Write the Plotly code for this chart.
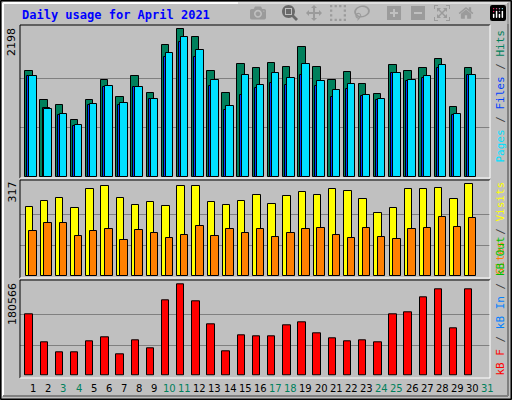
import plotly.graph_objects as go

days = list(range(1, 32))
weekend = [3, 4, 10, 11, 17, 18, 24, 25, 31]

# values for days 1..30 (no data for 31)
hits = [1580, 1146, 1067, 842, 1146, 1445, 1186, 1500, 1246, 1964, 2198, 2083, 1580, 1246, 1680,
        1620, 1700, 1640, 1934, 1640, 1445, 1565, 1381, 1231, 1665, 1580, 1620, 1754, 1037, 1620]
files = [1500, 1022, 917, 753, 1067, 1336, 1067, 1336, 1156, 1784, 2009, 1784, 1351, 992, 1216,
         1321, 1395, 1366, 1515, 1351, 1186, 1306, 1201, 1141, 1545, 1425, 1470, 1620, 917, 1515]
pages = [1500, 1007, 932, 768, 1082, 1351, 1096, 1336, 1156, 1844, 2083, 1889, 1440, 1052, 1515,
         1366, 1545, 1470, 1680, 1425, 1291, 1381, 1216, 1156, 1545, 1440, 1500, 1665, 932, 1515]
visits = [237, 258, 269, 234, 300, 310, 269, 244, 255, 241, 310, 310, 255, 244, 258,
          279, 248, 276, 289, 279, 300, 293, 265, 217, 234, 300, 300, 303, 265, 317]
sites = [154, 182, 182, 137, 154, 161, 123, 158, 148, 130, 141, 172, 137, 161, 148,
         161, 134, 148, 161, 165, 141, 130, 165, 134, 127, 161, 165, 203, 168, 199]
kbytes = [121256, 65900, 46130, 46130, 67877, 75785, 42176, 69854, 54038, 148934, 180566, 146957,
          101486, 48107, 79739, 77762, 77762, 99509, 105440, 83693, 73808, 67877, 69854, 65900,
          121256, 125210, 154865, 170681, 93578, 170681]

max_hits, max_visits, max_kb = 2198, 317, 180566
BG = '#c0c0c0'
W = 0.49
x = days[:30]

fig = go.Figure()

def bars(vals, off, color, xa, ya):
    fig.add_trace(go.Bar(x=[d + off for d in x], y=vals, width=W, marker=dict(color=color, line=dict(color='black', width=1)),
                         xaxis=xa, yaxis=ya, showlegend=False, hoverinfo='y'))

bars(hits, -0.27, '#00805c', 'x', 'y')
bars(files, -0.13, '#0040ff', 'x', 'y')
bars(pages, 0.0, '#00e0ff', 'x', 'y')
bars(visits, -0.24, '#ffff00', 'x2', 'y2')
bars(sites, 0.0, '#ff8000', 'x2', 'y2')
bars(kbytes, -0.26, '#ff0000', 'x3', 'y3')

xcommon = dict(range=[0.14, 31.14], showgrid=False, zeroline=False, showticklabels=False, fixedrange=True)
def ycommon(m, top):
    return dict(range=[0, top], tickvals=[m / 3, 2 * m / 3], showticklabels=False, showgrid=True,
                gridcolor='#808080', gridwidth=1, zeroline=False)

fig.update_layout(
    width=512, height=400, margin=dict(l=0, r=0, t=0, b=0),
    paper_bgcolor=BG, plot_bgcolor=BG, barmode='overlay', bargap=0,
    font=dict(family='DejaVu Sans', size=11, color='black'),
    xaxis=dict(domain=[20 / 512, 490 / 512], anchor='y', **xcommon),
    xaxis2=dict(domain=[20 / 512, 490 / 512], anchor='y2', **xcommon),
    xaxis3=dict(domain=[20 / 512, 490 / 512], anchor='y3', **xcommon),
    yaxis=dict(domain=[1 - 177 / 400, 1 - 26 / 400], anchor='x', **ycommon(max_hits, 2247)),
    yaxis2=dict(domain=[1 - 276 / 400, 1 - 180 / 400], anchor='x2', **ycommon(max_visits, 332)),
    yaxis3=dict(domain=[1 - 375.7 / 400, 1 - 280.3 / 400], anchor='x3', **ycommon(max_kb, 188470)),
)

ann = []
ann.append(dict(text='<b>Daily usage for April 2021</b>', x=20 / 512, y=1 - 15 / 400, xref='paper', yref='paper',
                xanchor='left', yanchor='middle', showarrow=False,
                font=dict(family='DejaVu Sans Mono', size=12, color='#0000ff')))
for d in days:
    ann.append(dict(text=str(d), x=d, y=1 - 388 / 400, xref='x3', yref='paper', showarrow=False,
                    xanchor='center', yanchor='middle',
                    font=dict(size=10, color='#00805c' if d in weekend else 'black')))
for txt, yp in [(str(max_hits), 26), (str(max_visits), 180), (str(max_kb), 281)]:
    ann.append(dict(text=txt, x=12 / 512, y=1 - yp / 400, xref='paper', yref='paper', showarrow=False,
                    textangle=-90, xanchor='center', yanchor='top', font=dict(size=11)))
mono = dict(family='DejaVu Sans Mono', size=11)
legend_top = ("<span style='color:#00e0ff'>Pages</span> / <span style='color:#0040ff'>Files</span> / "
              "<span style='color:#00805c'>Hits</span>")
legend_mid = "<span style='color:#ff8000'>Sites</span> / <span style='color:#ffff00'>Visits</span>"
legend_bot = ("<span style='color:#ff0000'>kB F</span> / <span style='color:#0080ff'>kB In</span> / "
              "<span style='color:#00c000'>kB Out</span>")
ann.append(dict(text=legend_top, x=500 / 512, y=1 - 28 / 400, xref='paper', yref='paper', showarrow=False,
                textangle=-90, xanchor='center', yanchor='top', font=dict(color='#404040', **mono)))
ann.append(dict(text=legend_mid, x=500 / 512, y=1 - 180 / 400, xref='paper', yref='paper', showarrow=False,
                textangle=-90, xanchor='center', yanchor='top', font=dict(color='#404040', **mono)))
ann.append(dict(text=legend_bot, x=500 / 512, y=1 - 378 / 400, xref='paper', yref='paper', showarrow=False,
                textangle=-90, xanchor='center', yanchor='bottom', font=dict(color='#404040', **mono)))
fig.update_layout(annotations=ann)

def px(xv): return xv / 512
def py(yv): return 1 - yv / 400
shapes = []
def frame(x0, y0, x1, y1, tl, br, w=1):
    shapes.append(dict(type='line', xref='paper', yref='paper', x0=px(x0), y0=py(y0), x1=px(x1), y1=py(y0), line=dict(color=tl, width=w)))
    shapes.append(dict(type='line', xref='paper', yref='paper', x0=px(x0), y0=py(y0), x1=px(x0), y1=py(y1), line=dict(color=tl, width=w)))
    shapes.append(dict(type='line', xref='paper', yref='paper', x0=px(x0), y0=py(y1), x1=px(x1), y1=py(y1), line=dict(color=br, width=w)))
    shapes.append(dict(type='line', xref='paper', yref='paper', x0=px(x1), y0=py(y0), x1=px(x1), y1=py(y1), line=dict(color=br, width=w)))

frame(0.5, 0.5, 511.5, 399.5, 'black', 'black', 2)
frame(3, 3, 508, 396, 'white', '#808080', 2)
frame(20, 25, 490, 178, 'black', 'white')
frame(20, 180, 490, 278, 'black', 'white')
frame(20, 280, 490, 378, 'black', 'white')
fig.update_layout(shapes=shapes)

fig.write_html("out.html", post_script="document.body.style.margin='0';document.body.style.overflow='hidden';")
